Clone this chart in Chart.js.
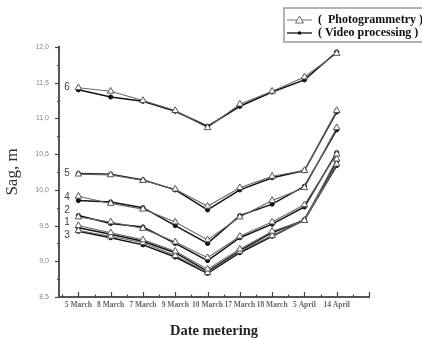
<!DOCTYPE html>
<html>
<head>
<meta charset="utf-8">
<script src="https://cdn.jsdelivr.net/npm/chart.js@4"></script>
<style>
html,body{margin:0;padding:0;background:#fff;}
canvas{display:block;}
</style>
</head>
<body>
<canvas id="c" width="422" height="338"></canvas>
<script>
const categories = ['5 March','8 March','7 March','9 March','10 March','17 March','18 March','5 April','14 April'];
const yTicks = [8.5, 9.0, 9.5, 10.0, 10.5, 11.0, 11.5, 12.0];
const curveNames = ['6','5','4','2','1','3'];
const curveLabelValues = [11.43, 10.23, 9.90, 9.71, 9.54, 9.36];

const photo6 = [11.43, 11.38, 11.25, 11.11, 10.87, 11.20, 11.38, 11.58, 11.91];
const video6 = [11.40, 11.30, 11.24, 11.10, 10.89, 11.17, 11.37, 11.54, 11.93];
const photo5 = [10.22, 10.21, 10.13, 10.01, 9.77, 10.03, 10.19, 10.27, 11.11];
const video5 = [10.23, 10.22, 10.14, 10.00, 9.72, 10.00, 10.17, 10.27, 11.09];
const photo4 = [9.91, 9.81, 9.73, 9.55, 9.30, 9.62, 9.85, 10.03, 10.87];
const video4 = [9.85, 9.83, 9.75, 9.50, 9.25, 9.64, 9.80, 10.05, 10.84];
const photo2 = [9.62, 9.55, 9.46, 9.27, 9.05, 9.35, 9.55, 9.79, 10.50];
const video2 = [9.64, 9.53, 9.48, 9.25, 9.01, 9.33, 9.52, 9.76, 10.52];
const photo1 = [9.50, 9.40, 9.30, 9.14, 8.89, 9.17, 9.42, 9.57, 10.43];
const video1 = [9.47, 9.38, 9.28, 9.12, 8.86, 9.15, 9.40, 9.58, 10.40];
const photo3 = [9.43, 9.35, 9.26, 9.08, 8.84, 9.14, 9.36, 9.57, 10.36];
const video3 = [9.42, 9.33, 9.23, 9.06, 8.83, 9.12, 9.35, 9.58, 10.34];

const photoSeries = [photo6, photo5, photo4, photo2, photo1, photo3];
const videoSeries = [video6, video5, video4, video2, video1, video3];

function toPts(arr){ return arr.map((v,i)=>({x:i+1, y:v})); }

const datasets = [];
photoSeries.forEach((s,k)=>{
  datasets.push({
    label:'Photogrammetry '+curveNames[k], data: toPts(s),
    borderColor:'#6a6a6a', borderWidth:1.1, pointStyle:'triangle', pointRadius:3.8,
    pointBackgroundColor:'#fff', pointBorderColor:'#555', pointBorderWidth:1, tension:0
  });
});
videoSeries.forEach((s,k)=>{
  datasets.push({
    label:'Video processing '+curveNames[k], data: toPts(s),
    borderColor:'#111', borderWidth:1.5, pointStyle:'circle', pointRadius:2.1,
    pointBackgroundColor:'#111', pointBorderColor:'#111', pointBorderWidth:1, tension:0
  });
});

const decor = {
  id:'decor',
  afterDraw(chart){
    const ctx = chart.ctx;
    const xs = chart.scales.x, ys = chart.scales.y;
    const ca = chart.chartArea;
    ctx.save();
    ctx.strokeStyle = '#444';
    ctx.lineWidth = 1.2;
    for (let v = 0.5; v <= 10.001; v += 0.5) {
      const px = Math.round(xs.getPixelForValue(v)) + 0.5;
      const major = Math.abs(v - Math.round(v)) < 1e-6;
      const len = major ? 5 : 2.5;
      ctx.beginPath(); ctx.moveTo(px, ca.bottom); ctx.lineTo(px, ca.bottom - len); ctx.stroke();
    }
    for (let v = 8.5; v <= 12.001; v += 0.25) {
      const py = Math.round(ys.getPixelForValue(v)) + 0.5;
      const major = Math.abs(v*2 - Math.round(v*2)) < 1e-6;
      const len = major ? 4 : 2;
      ctx.beginPath(); ctx.moveTo(ca.left, py); ctx.lineTo(ca.left - len, py); ctx.stroke();
    }
    ctx.fillStyle = '#444';
    ctx.font = '10px "Liberation Sans", Arial, sans-serif';
    ctx.textAlign = 'center';
    ctx.textBaseline = 'middle';
    curveNames.forEach((n,k)=>{
      ctx.fillText(n, ca.left + 8, ys.getPixelForValue(curveLabelValues[k]));
    });
    const lx = 284, ly = 8, lw = 150, lh = 34;
    ctx.strokeStyle = '#999';
    ctx.lineWidth = 1.5;
    ctx.strokeRect(lx, ly, lw, lh);
    const rows = [{y:20, t:'(  Photogrammetry )', photo:true},{y:33, t:'( Video processing )', photo:false}];
    rows.forEach(r=>{
      ctx.strokeStyle = r.photo ? '#777' : '#111';
      ctx.lineWidth = r.photo ? 1 : 1.3;
      ctx.beginPath(); ctx.moveTo(287, r.y); ctx.lineTo(312, r.y); ctx.stroke();
      if (r.photo) {
        ctx.fillStyle = '#fff'; ctx.strokeStyle = '#666'; ctx.lineWidth = 1;
        ctx.beginPath(); ctx.moveTo(299.5, r.y - 4); ctx.lineTo(303.5, r.y + 3); ctx.lineTo(295.5, r.y + 3); ctx.closePath();
        ctx.fill(); ctx.stroke();
      } else {
        ctx.fillStyle = '#111';
        ctx.beginPath(); ctx.arc(299.5, r.y, 1.8, 0, Math.PI*2); ctx.fill();
      }
      ctx.fillStyle = '#111';
      ctx.font = 'bold 12px "Liberation Serif", "Times New Roman", serif';
      ctx.textAlign = 'left';
      ctx.textBaseline = 'middle';
      ctx.fillText(r.t, 318, r.y);
    });
    ctx.restore();
  }
};

new Chart(document.getElementById('c'), {
  type:'line',
  data:{ datasets },
  options:{
    responsive:false,
    animation:false,
    devicePixelRatio:1,
    layout:{ padding:{ top:47, right:53, left:0, bottom:0 } },
    plugins:{ legend:{display:false}, tooltip:{enabled:false}, title:{display:false} },
    scales:{
      x:{
        type:'linear', min:0.4, max:10,
        afterFit(s){ s.height = 41; },
        afterBuildTicks(s){ s.ticks = [1,2,3,4,5,6,7,8,9].map(v=>({value:v})); },
        grid:{ display:false, drawTicks:false },
        border:{ display:true, color:'#555', width:2 },
        ticks:{
          padding:4, autoSkip:false, maxRotation:0, minRotation:0,
          color:'#666',
          font:{ family:'"Liberation Serif", "Times New Roman", serif', size:7.5, weight:'bold' },
          callback:(v)=> categories[Math.round(v)-1] || ''
        },
        title:{ display:true, text:'Date metering', color:'#222', padding:{top:0,bottom:0},
          font:{ family:'"Liberation Serif", "Times New Roman", serif', size:14.5, weight:'bold', lineHeight:1 } }
      },
      y:{
        type:'linear', min:8.5, max:12,
        afterFit(s){ s.width = 59; },
        afterBuildTicks(s){ s.ticks = yTicks.map(v=>({value:v})); },
        grid:{ display:false, drawTicks:false },
        border:{ display:true, color:'#555', width:2 },
        ticks:{
          padding:10, color:'#888',
          font:{ family:'"Liberation Sans", Arial, sans-serif', size:7 },
          callback:(v)=> Number(v).toFixed(1).replace('.', ',')
        },
        title:{ display:true, text:'Sag, m', color:'#333', padding:{top:3,bottom:0},
          font:{ family:'"Liberation Serif", "Times New Roman", serif', size:17, lineHeight:1.1 } }
      }
    }
  },
  plugins:[decor]
});
</script>
</body>
</html>
